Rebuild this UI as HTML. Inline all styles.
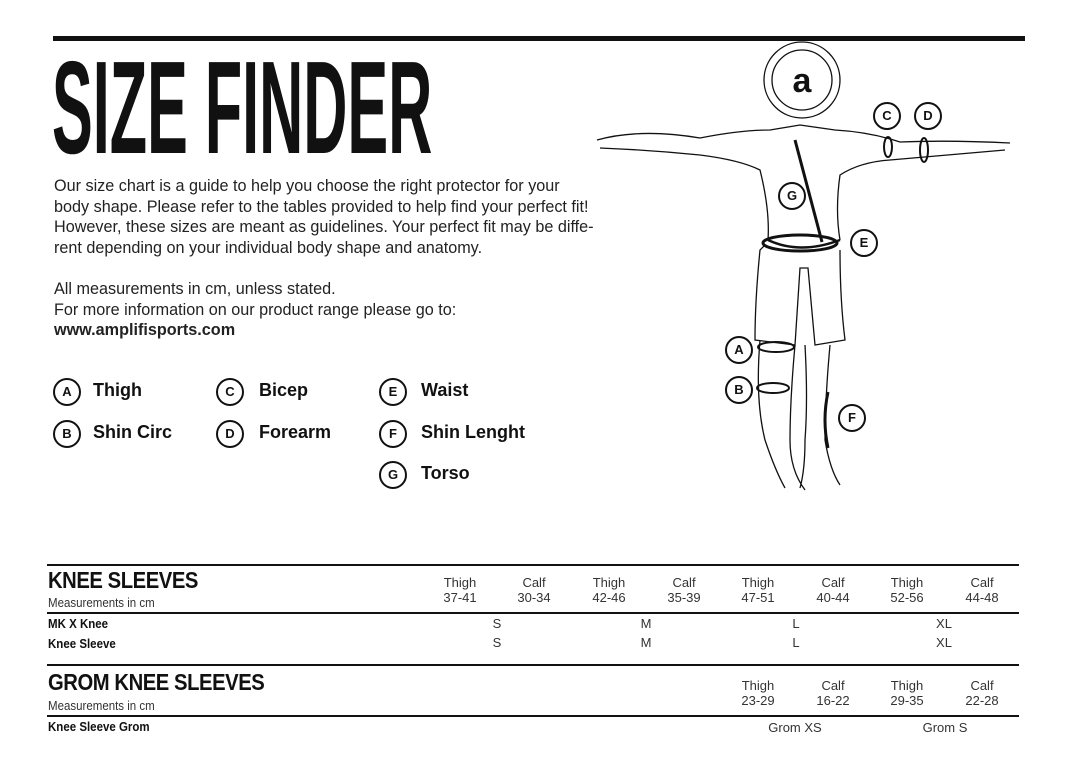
<!DOCTYPE html>
<html><head><meta charset="utf-8"><style>
body{margin:0;background:#fff;width:1083px;height:782px;position:relative;overflow:hidden;font-family:"Liberation Sans",sans-serif;color:#111}
.a{position:absolute;white-space:nowrap}
.p{font-size:16.2px;line-height:20.7px;color:#222}
.c{position:absolute;width:24px;height:24px;border:2px solid #111;border-radius:50%;font-size:13px;font-weight:bold;text-align:center;line-height:24px}
.l{font-size:18px;font-weight:bold}
.h{font-size:23px;font-weight:bold;letter-spacing:-0.5px;transform:scaleX(0.88);transform-origin:left top}
.s{font-size:12.5px;color:#333;transform:scaleX(0.92);transform-origin:left top}
.b{font-size:12.5px;font-weight:bold;transform:scaleX(0.92);transform-origin:left top}
.ln{position:absolute;left:47px;width:972px;background:#111}
.cc{position:absolute;width:60px;text-align:center;font-size:13px;color:#333}
</style></head><body>
<div style="position:absolute;left:53px;top:36px;width:972px;height:5px;background:#111"></div>
<div class="a" style="left:52px;top:33px;font-weight:bold;font-size:132px;transform:scaleX(0.463);transform-origin:left top;line-height:150px">SIZE FINDER</div>
<div class="a p" style="left:54px;top:176px">Our size chart is a guide to help you choose the right protector for your<br>body shape. Please refer to the tables provided to help find your perfect fit!<br>However, these sizes are meant as guidelines. Your perfect fit may be diffe-<br>rent depending on your individual body shape and anatomy.</div>
<div class="a p" style="left:54px;top:279px">All measurements in cm, unless stated.<br>For more information on our product range please go to:<br><b>www.amplifisports.com</b></div>

<div class="c" style="left:53px;top:378px">A</div><div class="a l" style="left:93px;top:380px">Thigh</div>
<div class="c" style="left:53px;top:420px">B</div><div class="a l" style="left:93px;top:422px">Shin Circ</div>
<div class="c" style="left:216px;top:378px">C</div><div class="a l" style="left:259px;top:380px">Bicep</div>
<div class="c" style="left:216px;top:420px">D</div><div class="a l" style="left:259px;top:422px">Forearm</div>
<div class="c" style="left:379px;top:378px">E</div><div class="a l" style="left:421px;top:380px">Waist</div>
<div class="c" style="left:379px;top:420px">F</div><div class="a l" style="left:421px;top:422px">Shin Lenght</div>
<div class="c" style="left:379px;top:461px">G</div><div class="a l" style="left:421px;top:463px">Torso</div>

<svg style="position:absolute;left:0;top:0" width="1083" height="782" fill="none" stroke="#111" stroke-width="1.3">
<circle cx="802" cy="80" r="38"/><circle cx="802" cy="80" r="30"/>
<text x="802" y="92" font-size="34" font-weight="bold" text-anchor="middle" fill="#111" stroke="none" font-family="Liberation Sans">a</text>
<path d="M597,140 Q640,128 700,138 Q740,130 770,130 L800,125 L835,130 Q870,132 900,142 Q950,140 1010,143"/>
<path d="M600,148 Q650,150 700,155 Q740,160 760,170 Q770,210 768,240 M1005,150 Q950,155 890,160 Q860,162 840,175 Q835,210 840,240"/>
<path d="M765,245 L760,250 Q755,300 755,340 L795,345 L800,268 L808,268 L815,345 L845,340 Q840,300 840,250"/>
<path d="M760,340 Q755,400 765,440 Q775,470 785,488 M795,345 Q790,400 790,440 Q790,470 805,490 M805,345 Q808,400 805,440 Q805,470 800,488 M830,345 Q825,400 825,440 Q830,470 840,485"/>
<path d="M768,240 Q800,255 840,240" stroke-width="2.5"/>
<ellipse cx="800" cy="243" rx="37" ry="8" stroke-width="3"/>
<path d="M795,140 L822,242" stroke-width="3"/>
<ellipse cx="888" cy="147" rx="4" ry="10" stroke-width="2"/><ellipse cx="924" cy="150" rx="4" ry="12" stroke-width="2"/>
<ellipse cx="776" cy="347" rx="18" ry="5" stroke-width="2"/><ellipse cx="773" cy="388" rx="16" ry="5" stroke-width="2"/>
<path d="M828,392 Q822,420 828,448" stroke-width="3"/>
</svg>
<div class="c" style="left:873px;top:102px">C</div><div class="c" style="left:914px;top:102px">D</div>
<div class="c" style="left:778px;top:182px">G</div><div class="c" style="left:850px;top:229px">E</div>
<div class="c" style="left:725px;top:336px">A</div><div class="c" style="left:725px;top:376px">B</div>
<div class="c" style="left:838px;top:404px">F</div>

<div class="ln" style="top:564px;height:2px"></div>
<div class="a h" style="left:48px;top:567px">KNEE SLEEVES</div>
<div class="a s" style="left:48px;top:596px">Measurements in cm</div>
<div class="ln" style="top:612px;height:1.5px"></div>
<div class="a b" style="left:48px;top:617px">MK X Knee</div>
<div class="a b" style="left:48px;top:637px">Knee Sleeve</div>
<div class="ln" style="top:664px;height:1.5px"></div>
<div class="a h" style="left:48px;top:669px">GROM KNEE SLEEVES</div>
<div class="a s" style="left:48px;top:699px">Measurements in cm</div>
<div class="ln" style="top:715px;height:1.5px"></div>
<div class="a b" style="left:48px;top:720px">Knee Sleeve Grom</div>

<div class="cc" style="left:430px;top:575px">Thigh<br>37-41</div>
<div class="cc" style="left:504px;top:575px">Calf<br>30-34</div>
<div class="cc" style="left:579px;top:575px">Thigh<br>42-46</div>
<div class="cc" style="left:654px;top:575px">Calf<br>35-39</div>
<div class="cc" style="left:728px;top:575px">Thigh<br>47-51</div>
<div class="cc" style="left:803px;top:575px">Calf<br>40-44</div>
<div class="cc" style="left:877px;top:575px">Thigh<br>52-56</div>
<div class="cc" style="left:952px;top:575px">Calf<br>44-48</div>
<div class="cc" style="left:467px;top:616px">S<br><span style="line-height:24px">S</span></div>
<div class="cc" style="left:616px;top:616px">M<br><span style="line-height:24px">M</span></div>
<div class="cc" style="left:766px;top:616px">L<br><span style="line-height:24px">L</span></div>
<div class="cc" style="left:914px;top:616px">XL<br><span style="line-height:24px">XL</span></div>
<div class="cc" style="left:728px;top:678px">Thigh<br>23-29</div>
<div class="cc" style="left:803px;top:678px">Calf<br>16-22</div>
<div class="cc" style="left:877px;top:678px">Thigh<br>29-35</div>
<div class="cc" style="left:952px;top:678px">Calf<br>22-28</div>
<div class="cc" style="left:765px;top:720px">Grom XS</div>
<div class="cc" style="left:915px;top:720px">Grom S</div>
</body></html>
